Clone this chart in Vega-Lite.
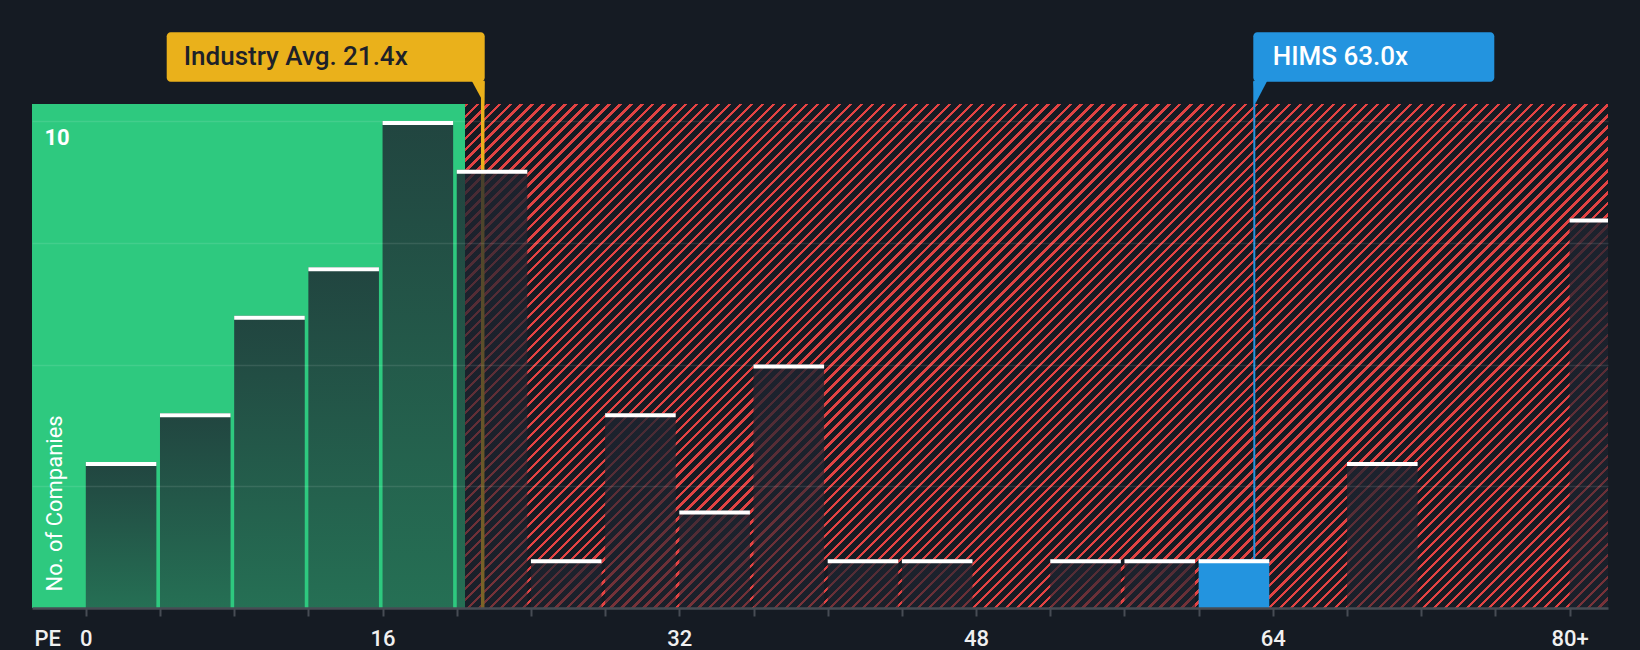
{
"$schema": "https://vega.github.io/schema/vega-lite/v6.json",
"width": 1576, "height": 504,
"autosize": {"type": "none"},
"padding": {"left": 32, "top": 104, "right": 32, "bottom": 42},
"background": "#151b23",
"config": {"view": {"stroke": null}, "font": "Roboto"},
"datasets": {
"bins": [
{"bin_start": 0, "bin_end": 4, "count": 3},
{"bin_start": 4, "bin_end": 8, "count": 4},
{"bin_start": 8, "bin_end": 12, "count": 6},
{"bin_start": 12, "bin_end": 16, "count": 7},
{"bin_start": 16, "bin_end": 20, "count": 10},
{"bin_start": 20, "bin_end": 24, "count": 9},
{"bin_start": 24, "bin_end": 28, "count": 1},
{"bin_start": 28, "bin_end": 32, "count": 4},
{"bin_start": 32, "bin_end": 36, "count": 2},
{"bin_start": 36, "bin_end": 40, "count": 5},
{"bin_start": 40, "bin_end": 44, "count": 1},
{"bin_start": 44, "bin_end": 48, "count": 1},
{"bin_start": 48, "bin_end": 52, "count": 0},
{"bin_start": 52, "bin_end": 56, "count": 1},
{"bin_start": 56, "bin_end": 60, "count": 1},
{"bin_start": 60, "bin_end": 64, "count": 1},
{"bin_start": 64, "bin_end": 68, "count": 0},
{"bin_start": 68, "bin_end": 72, "count": 3},
{"bin_start": 72, "bin_end": 76, "count": 0},
{"bin_start": 76, "bin_end": 80, "count": 0},
{"bin_start": 80, "bin_end": 84, "count": 8}
],
"regions": [
{"zone": "below", "start": -2.9, "end": 20.45},
{"zone": "above", "start": 20.45, "end": 82.07}
],
"refs": [
{"label": "Industry Avg. 21.4x", "value": 21.4, "kind": "industry"},
{"label": "HIMS 63.0x", "value": 63.0, "kind": "company"}
]
},
"layer": [
{"data": {"name": "bins"}, "transform": [{"filter": "datum.count > 0"}],
 "mark": {"type": "rect", "opacity": 0},
 "encoding": {
  "x": {"field": "bin_start", "type": "quantitative", "scale": {"domain": [-2.9, 82.07], "nice": false, "zero": false},
   "axis": {"values": [0,4,8,12,16,20,24,28,32,36,40,44,48,52,56,60,64,68,72,76,80],
    "labelExpr": "datum.value == 80 ? '80+' : (datum.value % 16 == 0 ? datum.label : '')",
    "labelFont": "Roboto", "labelFontSize": 22, "labelFontWeight": 500, "labelColor": "#f0f0f0",
    "labelBaseline": "middle", "labelPadding": 22, "labelOverlap": false, "labelFlush": false,
    "tickSize": 8, "tickWidth": 2, "tickColor": "#474c54", "domainColor": "#474c54", "domainWidth": 2.5,
    "grid": false, "title": "PE", "titleX": 2, "titleY": 30, "titleAlign": "left", "titleBaseline": "middle", "titleAnchor": "start",
    "titleFont": "Roboto", "titleFontSize": 22, "titleFontWeight": 500, "titleColor": "#f0f0f0", "zindex": 1}},
  "x2": {"field": "bin_end"},
  "y": {"field": "count", "type": "quantitative", "scale": {"domain": [0, 10.35], "nice": false, "zero": false},
   "axis": {"values": [2.5, 5, 7.5, 10], "labelExpr": "datum.value == 10 ? '10' : ''",
    "grid": true, "gridColor": "#ffffff", "gridOpacity": 0.1, "gridWidth": 1.5,
    "domain": false, "ticks": false, "tickSize": 0,
    "labelAlign": "left", "labelBaseline": "middle", "labelPadding": -12, "labelOffset": 16,
    "labelFont": "Roboto", "labelFontSize": 22, "labelFontWeight": "bold", "labelColor": "#ffffff",
    "title": "No. of Companies", "titleAngle": 270, "titleAlign": "left", "titleBaseline": "middle", "titleX": 22, "titleY": 487,
    "titleFont": "Roboto", "titleFontSize": 22, "titleFontWeight": "normal", "titleColor": "#ffffff", "zindex": 1}},
  "y2": {"datum": 0}}},
{"data": {"name": "regions"}, "transform": [{"filter": "datum.zone == 'below'"}],
 "mark": {"type": "rect", "fill": "#2ec97f"},
 "encoding": {
  "x": {"field": "start", "type": "quantitative"},
  "x2": {"field": "end"},
  "y": {"datum": 0, "type": "quantitative"},
  "y2": {"datum": 10.35}}},
{"data": {"name": "regions"}, "transform": [{"filter": "datum.zone == 'above'"}],
 "mark": {"type": "rect", "fill": {"gradient": "linear", "x1": 0, "y1": 0, "x2": 1.20638, "y2": 0.53199, "stops": [
{"offset":0,"color":"#e24343"},{"offset":0.002,"color":"#e24343"},{"offset":0.002,"color":"#151b23"},{"offset":0.0067,"color":"#151b23"},{"offset":0.0067,"color":"#e24343"},{"offset":0.0087,"color":"#e24343"},{"offset":0.0087,"color":"#151b23"},{"offset":0.0133,"color":"#151b23"},{"offset":0.0133,"color":"#e24343"},{"offset":0.0153,"color":"#e24343"},{"offset":0.0153,"color":"#151b23"},{"offset":0.02,"color":"#151b23"},
{"offset":0.02,"color":"#e24343"},{"offset":0.022,"color":"#e24343"},{"offset":0.022,"color":"#151b23"},{"offset":0.0267,"color":"#151b23"},{"offset":0.0267,"color":"#e24343"},{"offset":0.0287,"color":"#e24343"},{"offset":0.0287,"color":"#151b23"},{"offset":0.0333,"color":"#151b23"},{"offset":0.0333,"color":"#e24343"},{"offset":0.0353,"color":"#e24343"},{"offset":0.0353,"color":"#151b23"},{"offset":0.04,"color":"#151b23"},
{"offset":0.04,"color":"#e24343"},{"offset":0.042,"color":"#e24343"},{"offset":0.042,"color":"#151b23"},{"offset":0.0467,"color":"#151b23"},{"offset":0.0467,"color":"#e24343"},{"offset":0.0487,"color":"#e24343"},{"offset":0.0487,"color":"#151b23"},{"offset":0.0533,"color":"#151b23"},{"offset":0.0533,"color":"#e24343"},{"offset":0.0553,"color":"#e24343"},{"offset":0.0553,"color":"#151b23"},{"offset":0.06,"color":"#151b23"},
{"offset":0.06,"color":"#e24343"},{"offset":0.062,"color":"#e24343"},{"offset":0.062,"color":"#151b23"},{"offset":0.0667,"color":"#151b23"},{"offset":0.0667,"color":"#e24343"},{"offset":0.0687,"color":"#e24343"},{"offset":0.0687,"color":"#151b23"},{"offset":0.0733,"color":"#151b23"},{"offset":0.0733,"color":"#e24343"},{"offset":0.0753,"color":"#e24343"},{"offset":0.0753,"color":"#151b23"},{"offset":0.08,"color":"#151b23"},
{"offset":0.08,"color":"#e24343"},{"offset":0.082,"color":"#e24343"},{"offset":0.082,"color":"#151b23"},{"offset":0.0867,"color":"#151b23"},{"offset":0.0867,"color":"#e24343"},{"offset":0.0887,"color":"#e24343"},{"offset":0.0887,"color":"#151b23"},{"offset":0.0933,"color":"#151b23"},{"offset":0.0933,"color":"#e24343"},{"offset":0.0953,"color":"#e24343"},{"offset":0.0953,"color":"#151b23"},{"offset":0.1,"color":"#151b23"},
{"offset":0.1,"color":"#e24343"},{"offset":0.102,"color":"#e24343"},{"offset":0.102,"color":"#151b23"},{"offset":0.1067,"color":"#151b23"},{"offset":0.1067,"color":"#e24343"},{"offset":0.1087,"color":"#e24343"},{"offset":0.1087,"color":"#151b23"},{"offset":0.1133,"color":"#151b23"},{"offset":0.1133,"color":"#e24343"},{"offset":0.1153,"color":"#e24343"},{"offset":0.1153,"color":"#151b23"},{"offset":0.12,"color":"#151b23"},
{"offset":0.12,"color":"#e24343"},{"offset":0.122,"color":"#e24343"},{"offset":0.122,"color":"#151b23"},{"offset":0.1267,"color":"#151b23"},{"offset":0.1267,"color":"#e24343"},{"offset":0.1287,"color":"#e24343"},{"offset":0.1287,"color":"#151b23"},{"offset":0.1333,"color":"#151b23"},{"offset":0.1333,"color":"#e24343"},{"offset":0.1353,"color":"#e24343"},{"offset":0.1353,"color":"#151b23"},{"offset":0.14,"color":"#151b23"},
{"offset":0.14,"color":"#e24343"},{"offset":0.142,"color":"#e24343"},{"offset":0.142,"color":"#151b23"},{"offset":0.1467,"color":"#151b23"},{"offset":0.1467,"color":"#e24343"},{"offset":0.1487,"color":"#e24343"},{"offset":0.1487,"color":"#151b23"},{"offset":0.1533,"color":"#151b23"},{"offset":0.1533,"color":"#e24343"},{"offset":0.1553,"color":"#e24343"},{"offset":0.1553,"color":"#151b23"},{"offset":0.16,"color":"#151b23"},
{"offset":0.16,"color":"#e24343"},{"offset":0.162,"color":"#e24343"},{"offset":0.162,"color":"#151b23"},{"offset":0.1667,"color":"#151b23"},{"offset":0.1667,"color":"#e24343"},{"offset":0.1687,"color":"#e24343"},{"offset":0.1687,"color":"#151b23"},{"offset":0.1733,"color":"#151b23"},{"offset":0.1733,"color":"#e24343"},{"offset":0.1753,"color":"#e24343"},{"offset":0.1753,"color":"#151b23"},{"offset":0.18,"color":"#151b23"},
{"offset":0.18,"color":"#e24343"},{"offset":0.182,"color":"#e24343"},{"offset":0.182,"color":"#151b23"},{"offset":0.1867,"color":"#151b23"},{"offset":0.1867,"color":"#e24343"},{"offset":0.1887,"color":"#e24343"},{"offset":0.1887,"color":"#151b23"},{"offset":0.1933,"color":"#151b23"},{"offset":0.1933,"color":"#e24343"},{"offset":0.1953,"color":"#e24343"},{"offset":0.1953,"color":"#151b23"},{"offset":0.2,"color":"#151b23"},
{"offset":0.2,"color":"#e24343"},{"offset":0.202,"color":"#e24343"},{"offset":0.202,"color":"#151b23"},{"offset":0.2067,"color":"#151b23"},{"offset":0.2067,"color":"#e24343"},{"offset":0.2087,"color":"#e24343"},{"offset":0.2087,"color":"#151b23"},{"offset":0.2133,"color":"#151b23"},{"offset":0.2133,"color":"#e24343"},{"offset":0.2153,"color":"#e24343"},{"offset":0.2153,"color":"#151b23"},{"offset":0.22,"color":"#151b23"},
{"offset":0.22,"color":"#e24343"},{"offset":0.222,"color":"#e24343"},{"offset":0.222,"color":"#151b23"},{"offset":0.2267,"color":"#151b23"},{"offset":0.2267,"color":"#e24343"},{"offset":0.2287,"color":"#e24343"},{"offset":0.2287,"color":"#151b23"},{"offset":0.2333,"color":"#151b23"},{"offset":0.2333,"color":"#e24343"},{"offset":0.2353,"color":"#e24343"},{"offset":0.2353,"color":"#151b23"},{"offset":0.24,"color":"#151b23"},
{"offset":0.24,"color":"#e24343"},{"offset":0.242,"color":"#e24343"},{"offset":0.242,"color":"#151b23"},{"offset":0.2467,"color":"#151b23"},{"offset":0.2467,"color":"#e24343"},{"offset":0.2487,"color":"#e24343"},{"offset":0.2487,"color":"#151b23"},{"offset":0.2533,"color":"#151b23"},{"offset":0.2533,"color":"#e24343"},{"offset":0.2553,"color":"#e24343"},{"offset":0.2553,"color":"#151b23"},{"offset":0.26,"color":"#151b23"},
{"offset":0.26,"color":"#e24343"},{"offset":0.262,"color":"#e24343"},{"offset":0.262,"color":"#151b23"},{"offset":0.2667,"color":"#151b23"},{"offset":0.2667,"color":"#e24343"},{"offset":0.2687,"color":"#e24343"},{"offset":0.2687,"color":"#151b23"},{"offset":0.2733,"color":"#151b23"},{"offset":0.2733,"color":"#e24343"},{"offset":0.2753,"color":"#e24343"},{"offset":0.2753,"color":"#151b23"},{"offset":0.28,"color":"#151b23"},
{"offset":0.28,"color":"#e24343"},{"offset":0.282,"color":"#e24343"},{"offset":0.282,"color":"#151b23"},{"offset":0.2867,"color":"#151b23"},{"offset":0.2867,"color":"#e24343"},{"offset":0.2887,"color":"#e24343"},{"offset":0.2887,"color":"#151b23"},{"offset":0.2933,"color":"#151b23"},{"offset":0.2933,"color":"#e24343"},{"offset":0.2953,"color":"#e24343"},{"offset":0.2953,"color":"#151b23"},{"offset":0.3,"color":"#151b23"},
{"offset":0.3,"color":"#e24343"},{"offset":0.302,"color":"#e24343"},{"offset":0.302,"color":"#151b23"},{"offset":0.3067,"color":"#151b23"},{"offset":0.3067,"color":"#e24343"},{"offset":0.3087,"color":"#e24343"},{"offset":0.3087,"color":"#151b23"},{"offset":0.3133,"color":"#151b23"},{"offset":0.3133,"color":"#e24343"},{"offset":0.3153,"color":"#e24343"},{"offset":0.3153,"color":"#151b23"},{"offset":0.32,"color":"#151b23"},
{"offset":0.32,"color":"#e24343"},{"offset":0.322,"color":"#e24343"},{"offset":0.322,"color":"#151b23"},{"offset":0.3267,"color":"#151b23"},{"offset":0.3267,"color":"#e24343"},{"offset":0.3287,"color":"#e24343"},{"offset":0.3287,"color":"#151b23"},{"offset":0.3333,"color":"#151b23"},{"offset":0.3333,"color":"#e24343"},{"offset":0.3353,"color":"#e24343"},{"offset":0.3353,"color":"#151b23"},{"offset":0.34,"color":"#151b23"},
{"offset":0.34,"color":"#e24343"},{"offset":0.342,"color":"#e24343"},{"offset":0.342,"color":"#151b23"},{"offset":0.3467,"color":"#151b23"},{"offset":0.3467,"color":"#e24343"},{"offset":0.3487,"color":"#e24343"},{"offset":0.3487,"color":"#151b23"},{"offset":0.3533,"color":"#151b23"},{"offset":0.3533,"color":"#e24343"},{"offset":0.3553,"color":"#e24343"},{"offset":0.3553,"color":"#151b23"},{"offset":0.36,"color":"#151b23"},
{"offset":0.36,"color":"#e24343"},{"offset":0.362,"color":"#e24343"},{"offset":0.362,"color":"#151b23"},{"offset":0.3667,"color":"#151b23"},{"offset":0.3667,"color":"#e24343"},{"offset":0.3687,"color":"#e24343"},{"offset":0.3687,"color":"#151b23"},{"offset":0.3733,"color":"#151b23"},{"offset":0.3733,"color":"#e24343"},{"offset":0.3753,"color":"#e24343"},{"offset":0.3753,"color":"#151b23"},{"offset":0.38,"color":"#151b23"},
{"offset":0.38,"color":"#e24343"},{"offset":0.382,"color":"#e24343"},{"offset":0.382,"color":"#151b23"},{"offset":0.3867,"color":"#151b23"},{"offset":0.3867,"color":"#e24343"},{"offset":0.3887,"color":"#e24343"},{"offset":0.3887,"color":"#151b23"},{"offset":0.3933,"color":"#151b23"},{"offset":0.3933,"color":"#e24343"},{"offset":0.3953,"color":"#e24343"},{"offset":0.3953,"color":"#151b23"},{"offset":0.4,"color":"#151b23"},
{"offset":0.4,"color":"#e24343"},{"offset":0.402,"color":"#e24343"},{"offset":0.402,"color":"#151b23"},{"offset":0.4067,"color":"#151b23"},{"offset":0.4067,"color":"#e24343"},{"offset":0.4087,"color":"#e24343"},{"offset":0.4087,"color":"#151b23"},{"offset":0.4133,"color":"#151b23"},{"offset":0.4133,"color":"#e24343"},{"offset":0.4153,"color":"#e24343"},{"offset":0.4153,"color":"#151b23"},{"offset":0.42,"color":"#151b23"},
{"offset":0.42,"color":"#e24343"},{"offset":0.422,"color":"#e24343"},{"offset":0.422,"color":"#151b23"},{"offset":0.4267,"color":"#151b23"},{"offset":0.4267,"color":"#e24343"},{"offset":0.4287,"color":"#e24343"},{"offset":0.4287,"color":"#151b23"},{"offset":0.4333,"color":"#151b23"},{"offset":0.4333,"color":"#e24343"},{"offset":0.4353,"color":"#e24343"},{"offset":0.4353,"color":"#151b23"},{"offset":0.44,"color":"#151b23"},
{"offset":0.44,"color":"#e24343"},{"offset":0.442,"color":"#e24343"},{"offset":0.442,"color":"#151b23"},{"offset":0.4467,"color":"#151b23"},{"offset":0.4467,"color":"#e24343"},{"offset":0.4487,"color":"#e24343"},{"offset":0.4487,"color":"#151b23"},{"offset":0.4533,"color":"#151b23"},{"offset":0.4533,"color":"#e24343"},{"offset":0.4553,"color":"#e24343"},{"offset":0.4553,"color":"#151b23"},{"offset":0.46,"color":"#151b23"},
{"offset":0.46,"color":"#e24343"},{"offset":0.462,"color":"#e24343"},{"offset":0.462,"color":"#151b23"},{"offset":0.4667,"color":"#151b23"},{"offset":0.4667,"color":"#e24343"},{"offset":0.4687,"color":"#e24343"},{"offset":0.4687,"color":"#151b23"},{"offset":0.4733,"color":"#151b23"},{"offset":0.4733,"color":"#e24343"},{"offset":0.4753,"color":"#e24343"},{"offset":0.4753,"color":"#151b23"},{"offset":0.48,"color":"#151b23"},
{"offset":0.48,"color":"#e24343"},{"offset":0.482,"color":"#e24343"},{"offset":0.482,"color":"#151b23"},{"offset":0.4867,"color":"#151b23"},{"offset":0.4867,"color":"#e24343"},{"offset":0.4887,"color":"#e24343"},{"offset":0.4887,"color":"#151b23"},{"offset":0.4933,"color":"#151b23"},{"offset":0.4933,"color":"#e24343"},{"offset":0.4953,"color":"#e24343"},{"offset":0.4953,"color":"#151b23"},{"offset":0.5,"color":"#151b23"},
{"offset":0.5,"color":"#e24343"},{"offset":0.502,"color":"#e24343"},{"offset":0.502,"color":"#151b23"},{"offset":0.5067,"color":"#151b23"},{"offset":0.5067,"color":"#e24343"},{"offset":0.5087,"color":"#e24343"},{"offset":0.5087,"color":"#151b23"},{"offset":0.5133,"color":"#151b23"},{"offset":0.5133,"color":"#e24343"},{"offset":0.5153,"color":"#e24343"},{"offset":0.5153,"color":"#151b23"},{"offset":0.52,"color":"#151b23"},
{"offset":0.52,"color":"#e24343"},{"offset":0.522,"color":"#e24343"},{"offset":0.522,"color":"#151b23"},{"offset":0.5267,"color":"#151b23"},{"offset":0.5267,"color":"#e24343"},{"offset":0.5287,"color":"#e24343"},{"offset":0.5287,"color":"#151b23"},{"offset":0.5333,"color":"#151b23"},{"offset":0.5333,"color":"#e24343"},{"offset":0.5353,"color":"#e24343"},{"offset":0.5353,"color":"#151b23"},{"offset":0.54,"color":"#151b23"},
{"offset":0.54,"color":"#e24343"},{"offset":0.542,"color":"#e24343"},{"offset":0.542,"color":"#151b23"},{"offset":0.5467,"color":"#151b23"},{"offset":0.5467,"color":"#e24343"},{"offset":0.5487,"color":"#e24343"},{"offset":0.5487,"color":"#151b23"},{"offset":0.5533,"color":"#151b23"},{"offset":0.5533,"color":"#e24343"},{"offset":0.5553,"color":"#e24343"},{"offset":0.5553,"color":"#151b23"},{"offset":0.56,"color":"#151b23"},
{"offset":0.56,"color":"#e24343"},{"offset":0.562,"color":"#e24343"},{"offset":0.562,"color":"#151b23"},{"offset":0.5667,"color":"#151b23"},{"offset":0.5667,"color":"#e24343"},{"offset":0.5687,"color":"#e24343"},{"offset":0.5687,"color":"#151b23"},{"offset":0.5733,"color":"#151b23"},{"offset":0.5733,"color":"#e24343"},{"offset":0.5753,"color":"#e24343"},{"offset":0.5753,"color":"#151b23"},{"offset":0.58,"color":"#151b23"},
{"offset":0.58,"color":"#e24343"},{"offset":0.582,"color":"#e24343"},{"offset":0.582,"color":"#151b23"},{"offset":0.5867,"color":"#151b23"},{"offset":0.5867,"color":"#e24343"},{"offset":0.5887,"color":"#e24343"},{"offset":0.5887,"color":"#151b23"},{"offset":0.5933,"color":"#151b23"},{"offset":0.5933,"color":"#e24343"},{"offset":0.5953,"color":"#e24343"},{"offset":0.5953,"color":"#151b23"},{"offset":0.6,"color":"#151b23"},
{"offset":0.6,"color":"#e24343"},{"offset":0.602,"color":"#e24343"},{"offset":0.602,"color":"#151b23"},{"offset":0.6067,"color":"#151b23"},{"offset":0.6067,"color":"#e24343"},{"offset":0.6087,"color":"#e24343"},{"offset":0.6087,"color":"#151b23"},{"offset":0.6133,"color":"#151b23"},{"offset":0.6133,"color":"#e24343"},{"offset":0.6153,"color":"#e24343"},{"offset":0.6153,"color":"#151b23"},{"offset":0.62,"color":"#151b23"},
{"offset":0.62,"color":"#e24343"},{"offset":0.622,"color":"#e24343"},{"offset":0.622,"color":"#151b23"},{"offset":0.6267,"color":"#151b23"},{"offset":0.6267,"color":"#e24343"},{"offset":0.6287,"color":"#e24343"},{"offset":0.6287,"color":"#151b23"},{"offset":0.6333,"color":"#151b23"},{"offset":0.6333,"color":"#e24343"},{"offset":0.6353,"color":"#e24343"},{"offset":0.6353,"color":"#151b23"},{"offset":0.64,"color":"#151b23"},
{"offset":0.64,"color":"#e24343"},{"offset":0.642,"color":"#e24343"},{"offset":0.642,"color":"#151b23"},{"offset":0.6467,"color":"#151b23"},{"offset":0.6467,"color":"#e24343"},{"offset":0.6487,"color":"#e24343"},{"offset":0.6487,"color":"#151b23"},{"offset":0.6533,"color":"#151b23"},{"offset":0.6533,"color":"#e24343"},{"offset":0.6553,"color":"#e24343"},{"offset":0.6553,"color":"#151b23"},{"offset":0.66,"color":"#151b23"},
{"offset":0.66,"color":"#e24343"},{"offset":0.662,"color":"#e24343"},{"offset":0.662,"color":"#151b23"},{"offset":0.6667,"color":"#151b23"},{"offset":0.6667,"color":"#e24343"},{"offset":0.6687,"color":"#e24343"},{"offset":0.6687,"color":"#151b23"},{"offset":0.6733,"color":"#151b23"},{"offset":0.6733,"color":"#e24343"},{"offset":0.6753,"color":"#e24343"},{"offset":0.6753,"color":"#151b23"},{"offset":0.68,"color":"#151b23"},
{"offset":0.68,"color":"#e24343"},{"offset":0.682,"color":"#e24343"},{"offset":0.682,"color":"#151b23"},{"offset":0.6867,"color":"#151b23"},{"offset":0.6867,"color":"#e24343"},{"offset":0.6887,"color":"#e24343"},{"offset":0.6887,"color":"#151b23"},{"offset":0.6933,"color":"#151b23"},{"offset":0.6933,"color":"#e24343"},{"offset":0.6953,"color":"#e24343"},{"offset":0.6953,"color":"#151b23"},{"offset":0.7,"color":"#151b23"},
{"offset":0.7,"color":"#e24343"},{"offset":0.702,"color":"#e24343"},{"offset":0.702,"color":"#151b23"},{"offset":0.7067,"color":"#151b23"},{"offset":0.7067,"color":"#e24343"},{"offset":0.7087,"color":"#e24343"},{"offset":0.7087,"color":"#151b23"},{"offset":0.7133,"color":"#151b23"},{"offset":0.7133,"color":"#e24343"},{"offset":0.7153,"color":"#e24343"},{"offset":0.7153,"color":"#151b23"},{"offset":0.72,"color":"#151b23"},
{"offset":0.72,"color":"#e24343"},{"offset":0.722,"color":"#e24343"},{"offset":0.722,"color":"#151b23"},{"offset":0.7267,"color":"#151b23"},{"offset":0.7267,"color":"#e24343"},{"offset":0.7287,"color":"#e24343"},{"offset":0.7287,"color":"#151b23"},{"offset":0.7333,"color":"#151b23"},{"offset":0.7333,"color":"#e24343"},{"offset":0.7353,"color":"#e24343"},{"offset":0.7353,"color":"#151b23"},{"offset":0.74,"color":"#151b23"},
{"offset":0.74,"color":"#e24343"},{"offset":0.742,"color":"#e24343"},{"offset":0.742,"color":"#151b23"},{"offset":0.7467,"color":"#151b23"},{"offset":0.7467,"color":"#e24343"},{"offset":0.7487,"color":"#e24343"},{"offset":0.7487,"color":"#151b23"},{"offset":0.7533,"color":"#151b23"},{"offset":0.7533,"color":"#e24343"},{"offset":0.7553,"color":"#e24343"},{"offset":0.7553,"color":"#151b23"},{"offset":0.76,"color":"#151b23"},
{"offset":0.76,"color":"#e24343"},{"offset":0.762,"color":"#e24343"},{"offset":0.762,"color":"#151b23"},{"offset":0.7667,"color":"#151b23"},{"offset":0.7667,"color":"#e24343"},{"offset":0.7687,"color":"#e24343"},{"offset":0.7687,"color":"#151b23"},{"offset":0.7733,"color":"#151b23"},{"offset":0.7733,"color":"#e24343"},{"offset":0.7753,"color":"#e24343"},{"offset":0.7753,"color":"#151b23"},{"offset":0.78,"color":"#151b23"},
{"offset":0.78,"color":"#e24343"},{"offset":0.782,"color":"#e24343"},{"offset":0.782,"color":"#151b23"},{"offset":0.7867,"color":"#151b23"},{"offset":0.7867,"color":"#e24343"},{"offset":0.7887,"color":"#e24343"},{"offset":0.7887,"color":"#151b23"},{"offset":0.7933,"color":"#151b23"},{"offset":0.7933,"color":"#e24343"},{"offset":0.7953,"color":"#e24343"},{"offset":0.7953,"color":"#151b23"},{"offset":0.8,"color":"#151b23"},
{"offset":0.8,"color":"#e24343"},{"offset":0.802,"color":"#e24343"},{"offset":0.802,"color":"#151b23"},{"offset":0.8067,"color":"#151b23"},{"offset":0.8067,"color":"#e24343"},{"offset":0.8087,"color":"#e24343"},{"offset":0.8087,"color":"#151b23"},{"offset":0.8133,"color":"#151b23"},{"offset":0.8133,"color":"#e24343"},{"offset":0.8153,"color":"#e24343"},{"offset":0.8153,"color":"#151b23"},{"offset":0.82,"color":"#151b23"},
{"offset":0.82,"color":"#e24343"},{"offset":0.822,"color":"#e24343"},{"offset":0.822,"color":"#151b23"},{"offset":0.8267,"color":"#151b23"},{"offset":0.8267,"color":"#e24343"},{"offset":0.8287,"color":"#e24343"},{"offset":0.8287,"color":"#151b23"},{"offset":0.8333,"color":"#151b23"},{"offset":0.8333,"color":"#e24343"},{"offset":0.8353,"color":"#e24343"},{"offset":0.8353,"color":"#151b23"},{"offset":0.84,"color":"#151b23"},
{"offset":0.84,"color":"#e24343"},{"offset":0.842,"color":"#e24343"},{"offset":0.842,"color":"#151b23"},{"offset":0.8467,"color":"#151b23"},{"offset":0.8467,"color":"#e24343"},{"offset":0.8487,"color":"#e24343"},{"offset":0.8487,"color":"#151b23"},{"offset":0.8533,"color":"#151b23"},{"offset":0.8533,"color":"#e24343"},{"offset":0.8553,"color":"#e24343"},{"offset":0.8553,"color":"#151b23"},{"offset":0.86,"color":"#151b23"},
{"offset":0.86,"color":"#e24343"},{"offset":0.862,"color":"#e24343"},{"offset":0.862,"color":"#151b23"},{"offset":0.8667,"color":"#151b23"},{"offset":0.8667,"color":"#e24343"},{"offset":0.8687,"color":"#e24343"},{"offset":0.8687,"color":"#151b23"},{"offset":0.8733,"color":"#151b23"},{"offset":0.8733,"color":"#e24343"},{"offset":0.8753,"color":"#e24343"},{"offset":0.8753,"color":"#151b23"},{"offset":0.88,"color":"#151b23"},
{"offset":0.88,"color":"#e24343"},{"offset":0.882,"color":"#e24343"},{"offset":0.882,"color":"#151b23"},{"offset":0.8867,"color":"#151b23"},{"offset":0.8867,"color":"#e24343"},{"offset":0.8887,"color":"#e24343"},{"offset":0.8887,"color":"#151b23"},{"offset":0.8933,"color":"#151b23"},{"offset":0.8933,"color":"#e24343"},{"offset":0.8953,"color":"#e24343"},{"offset":0.8953,"color":"#151b23"},{"offset":0.9,"color":"#151b23"},
{"offset":0.9,"color":"#e24343"},{"offset":0.902,"color":"#e24343"},{"offset":0.902,"color":"#151b23"},{"offset":0.9067,"color":"#151b23"},{"offset":0.9067,"color":"#e24343"},{"offset":0.9087,"color":"#e24343"},{"offset":0.9087,"color":"#151b23"},{"offset":0.9133,"color":"#151b23"},{"offset":0.9133,"color":"#e24343"},{"offset":0.9153,"color":"#e24343"},{"offset":0.9153,"color":"#151b23"},{"offset":0.92,"color":"#151b23"},
{"offset":0.92,"color":"#e24343"},{"offset":0.922,"color":"#e24343"},{"offset":0.922,"color":"#151b23"},{"offset":0.9267,"color":"#151b23"},{"offset":0.9267,"color":"#e24343"},{"offset":0.9287,"color":"#e24343"},{"offset":0.9287,"color":"#151b23"},{"offset":0.9333,"color":"#151b23"},{"offset":0.9333,"color":"#e24343"},{"offset":0.9353,"color":"#e24343"},{"offset":0.9353,"color":"#151b23"},{"offset":0.94,"color":"#151b23"},
{"offset":0.94,"color":"#e24343"},{"offset":0.942,"color":"#e24343"},{"offset":0.942,"color":"#151b23"},{"offset":0.9467,"color":"#151b23"},{"offset":0.9467,"color":"#e24343"},{"offset":0.9487,"color":"#e24343"},{"offset":0.9487,"color":"#151b23"},{"offset":0.9533,"color":"#151b23"},{"offset":0.9533,"color":"#e24343"},{"offset":0.9553,"color":"#e24343"},{"offset":0.9553,"color":"#151b23"},{"offset":0.96,"color":"#151b23"},
{"offset":0.96,"color":"#e24343"},{"offset":0.962,"color":"#e24343"},{"offset":0.962,"color":"#151b23"},{"offset":0.9667,"color":"#151b23"},{"offset":0.9667,"color":"#e24343"},{"offset":0.9687,"color":"#e24343"},{"offset":0.9687,"color":"#151b23"},{"offset":0.9733,"color":"#151b23"},{"offset":0.9733,"color":"#e24343"},{"offset":0.9753,"color":"#e24343"},{"offset":0.9753,"color":"#151b23"},{"offset":0.98,"color":"#151b23"},
{"offset":0.98,"color":"#e24343"},{"offset":0.982,"color":"#e24343"},{"offset":0.982,"color":"#151b23"},{"offset":0.9867,"color":"#151b23"},{"offset":0.9867,"color":"#e24343"},{"offset":0.9887,"color":"#e24343"},{"offset":0.9887,"color":"#151b23"},{"offset":0.9933,"color":"#151b23"},{"offset":0.9933,"color":"#e24343"},{"offset":0.9953,"color":"#e24343"},{"offset":0.9953,"color":"#151b23"},{"offset":1,"color":"#151b23"}
 ]}},
 "encoding": {
  "x": {"field": "start", "type": "quantitative"},
  "x2": {"field": "end"},
  "y": {"datum": 0, "type": "quantitative"},
  "y2": {"datum": 10.35}}},
{"data": {"name": "refs"}, "transform": [{"filter": "datum.kind == 'industry'"}],
 "mark": {"type": "rule", "color": "#eab11b", "strokeWidth": 3.5},
 "encoding": {
  "x": {"field": "value", "type": "quantitative"},
  "y": {"datum": 10.808, "type": "quantitative"},
  "y2": {"datum": 0}}},
{"data": {"name": "refs"}, "transform": [{"filter": "datum.kind == 'company'"}],
 "mark": {"type": "rule", "color": "#2394df", "strokeWidth": 2},
 "encoding": {
  "x": {"field": "value", "type": "quantitative"},
  "y": {"datum": 10.808, "type": "quantitative"},
  "y2": {"datum": 0}}},
{"data": {"name": "bins"}, "transform": [{"filter": "datum.count > 0 && !(datum.bin_start <= 63.0 && datum.bin_end > 63.0)"}],
 "mark": {"type": "rect", "clip": true, "x2Offset": -3.6, "fill": {"gradient": "linear", "x1": 0, "y1": 0, "x2": 0, "y2": 1, "stops": [{"offset": 0, "color": "rgba(30,36,48,0.8)"}, {"offset": 1, "color": "rgba(30,36,48,0.54)"}]}},
 "encoding": {
  "x": {"field": "bin_start", "type": "quantitative"},
  "x2": {"field": "bin_end"},
  "y": {"field": "count", "type": "quantitative"},
  "y2": {"datum": 0}}},
{"data": {"name": "bins"}, "transform": [{"filter": "datum.count > 0 && datum.bin_start <= 63.0 && datum.bin_end > 63.0"}],
 "mark": {"type": "rect", "clip": true, "x2Offset": -3.6, "fill": "#2394df"},
 "encoding": {
  "x": {"field": "bin_start", "type": "quantitative"},
  "x2": {"field": "bin_end"},
  "y": {"field": "count", "type": "quantitative"},
  "y2": {"datum": 0}}},
{"data": {"name": "bins"}, "transform": [{"filter": "datum.count > 0"}],
 "mark": {"type": "rule", "color": "#ffffff", "strokeWidth": 4, "yOffset": 2, "x2Offset": -3.6, "clip": true, "strokeCap": "butt"},
 "encoding": {
  "x": {"field": "bin_start", "type": "quantitative"},
  "x2": {"field": "bin_end"},
  "y": {"field": "count", "type": "quantitative"}}},
{"data": {"name": "refs"}, "transform": [{"filter": "datum.kind == 'industry'"}],
 "mark": {"type": "rect", "fill": "#eab11b", "cornerRadius": 4, "xOffset": -316, "x2Offset": 2},
 "encoding": {
  "x": {"field": "value", "type": "quantitative"}, "x2": {"field": "value"},
  "y": {"datum": 11.822, "type": "quantitative"}, "y2": {"datum": 10.808}}},
{"data": {"name": "refs"}, "transform": [{"filter": "datum.kind == 'industry'"}],
 "mark": {"type": "point", "shape": "M -1.1 -0.1 L 0.2 -0.1 L 0.15 2.2 Z", "size": 400, "filled": true, "fill": "#eab11b", "strokeWidth": 0, "opacity": 1},
 "encoding": {
  "x": {"field": "value", "type": "quantitative"},
  "y": {"datum": 10.808, "type": "quantitative"}}},
{"data": {"name": "refs"}, "transform": [{"filter": "datum.kind == 'industry'"}],
 "mark": {"type": "text", "align": "left", "baseline": "middle", "font": "Roboto", "fontSize": 26, "fontWeight": 500, "color": "#1d2129", "xOffset": -299},
 "encoding": {
  "x": {"field": "value", "type": "quantitative"},
  "y": {"datum": 11.315, "type": "quantitative"},
  "text": {"field": "label"}}},
{"data": {"name": "refs"}, "transform": [{"filter": "datum.kind == 'company'"}],
 "mark": {"type": "rect", "fill": "#2394df", "cornerRadius": 4, "xOffset": -1, "x2Offset": 240},
 "encoding": {
  "x": {"field": "value", "type": "quantitative"}, "x2": {"field": "value"},
  "y": {"datum": 11.822, "type": "quantitative"}, "y2": {"datum": 10.808}}},
{"data": {"name": "refs"}, "transform": [{"filter": "datum.kind == 'company'"}],
 "mark": {"type": "point", "shape": "M -0.1 -0.1 L 1.3 -0.1 L 0.1 2.2 Z", "size": 400, "filled": true, "fill": "#2394df", "strokeWidth": 0, "opacity": 1},
 "encoding": {
  "x": {"field": "value", "type": "quantitative"},
  "y": {"datum": 10.808, "type": "quantitative"}}},
{"data": {"name": "refs"}, "transform": [{"filter": "datum.kind == 'company'"}],
 "mark": {"type": "text", "align": "left", "baseline": "middle", "font": "Roboto", "fontSize": 26, "fontWeight": 500, "color": "#ffffff", "xOffset": 18.4},
 "encoding": {
  "x": {"field": "value", "type": "quantitative"},
  "y": {"datum": 11.315, "type": "quantitative"},
  "text": {"field": "label"}}}
]
}
